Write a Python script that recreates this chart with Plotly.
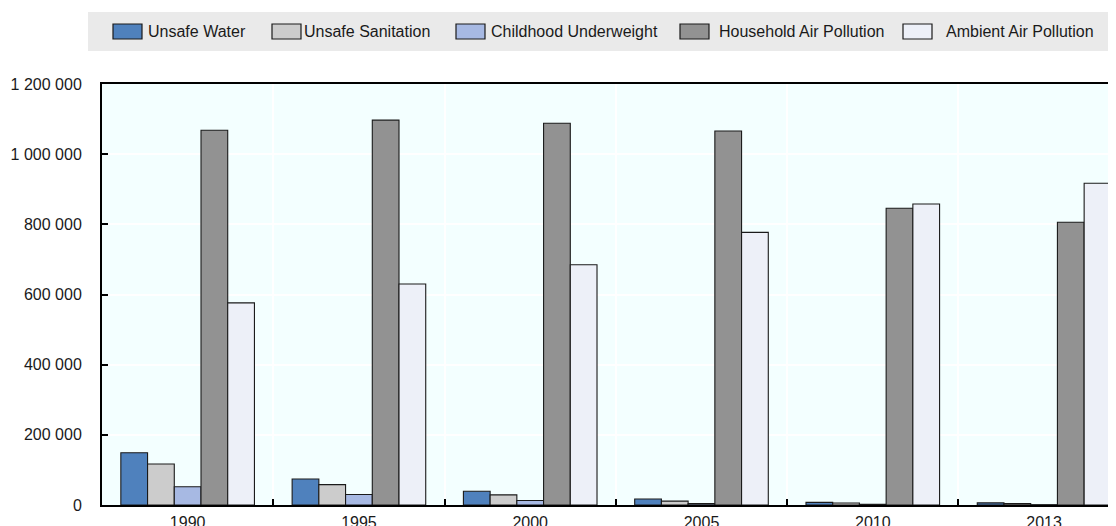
import plotly.graph_objects as go

years = ["1990", "1995", "2000", "2005", "2010", "2013"]
unsafe_water = [149000, 74000, 39000, 17000, 7500, 6000]
unsafe_sanitation = [117000, 58000, 29000, 11000, 5500, 4000]
childhood_underweight = [52000, 30000, 13000, 4000, 2000, 1000]
household_air = [1068000, 1097000, 1088000, 1066000, 846000, 806000]
ambient_air = [576000, 630000, 685000, 777000, 858000, 917000]
y_ticks = [0, 200000, 400000, 600000, 800000, 1000000, 1200000]

series_names = ["Unsafe Water", "Unsafe Sanitation", "Childhood Underweight",
                "Household Air Pollution", "Ambient Air Pollution"]
series_values = [unsafe_water, unsafe_sanitation, childhood_underweight,
                 household_air, ambient_air]
series_colors = ["#4F81BD", "#CCCCCC", "#A7B9E3", "#929292", "#EDF0F8"]

FONT = "Arial, Liberation Sans, sans-serif"
TXT = "#1A1A1A"

# page body has an 8px margin, so the figure is offset by (8, 8) on screen
OFF = 8
W, H = 1116, 526
L, R, T, B = 102 - OFF, OFF, 84 - OFF, H - (505 - OFF)
PW, PH = W - L - R, H - T - B


def px_x(vx):
    return (vx - OFF - L) / PW


def px_y(vy):
    return (H - B - (vy - OFF)) / PH


fig = go.Figure()
for name, vals, col in zip(series_names, series_values, series_colors):
    fig.add_trace(go.Bar(
        x=years, y=vals, name=name, showlegend=False,
        marker=dict(color=col, line=dict(color="#1A1A1A", width=1.1)),
    ))

# legend band + entries (drawn as shapes/annotations to match the swatch style)
shapes = [dict(
    type="rect", xref="paper", yref="paper", layer="below",
    x0=px_x(88), x1=1.0, y0=px_y(51), y1=px_y(12),
    fillcolor="#EAEAEA", line=dict(width=0),
)]
annotations = []
swatch_x = [113, 272, 456, 680, 903]
text_x = [146, 302, 489, 717, 944]
for name, col, sx, tx in zip(series_names, series_colors, swatch_x, text_x):
    shapes.append(dict(
        type="rect", xref="paper", yref="paper",
        x0=px_x(sx), x1=px_x(sx + 29), y0=px_y(39), y1=px_y(24),
        fillcolor=col, line=dict(color="#1A1A1A", width=1.2),
    ))
    annotations.append(dict(
        xref="paper", yref="paper", x=px_x(tx), y=px_y(31.5),
        xanchor="left", yanchor="middle", showarrow=False,
        text=name, font=dict(family=FONT, size=16, color=TXT),
    ))

fig.update_layout(
    width=W, height=H,
    margin=dict(l=L, r=R, t=T, b=B),
    paper_bgcolor="white",
    plot_bgcolor="#F3FFFF",
    barmode="group", bargap=0.22, bargroupgap=0,
    separators=". ",
    font=dict(family=FONT, size=16, color=TXT),
    showlegend=False,
    shapes=shapes,
    annotations=annotations,
)

fig.update_xaxes(
    type="category", range=[-0.5, 5.42], automargin=False,
    showline=True, linecolor="black", linewidth=2, mirror=True,
    ticks="inside", ticklen=6, tickcolor="black", tickwidth=1.5,
    tickson="boundaries",
    showgrid=True, gridcolor="white", gridwidth=2,
    ticklabelstandoff=2,
    tickfont=dict(family=FONT, size=16, color=TXT),
)
fig.update_yaxes(
    range=[0, 1200000], tickvals=y_ticks, tickformat=",d", automargin=False,
    showline=True, linecolor="black", linewidth=2,
    ticks="inside", ticklen=6, tickcolor="black", tickwidth=1.5,
    showgrid=True, gridcolor="white", gridwidth=2,
    zeroline=False,
    ticklabelstandoff=15,
    tickfont=dict(family=FONT, size=16, color=TXT),
)

fig.write_html("out.html")
